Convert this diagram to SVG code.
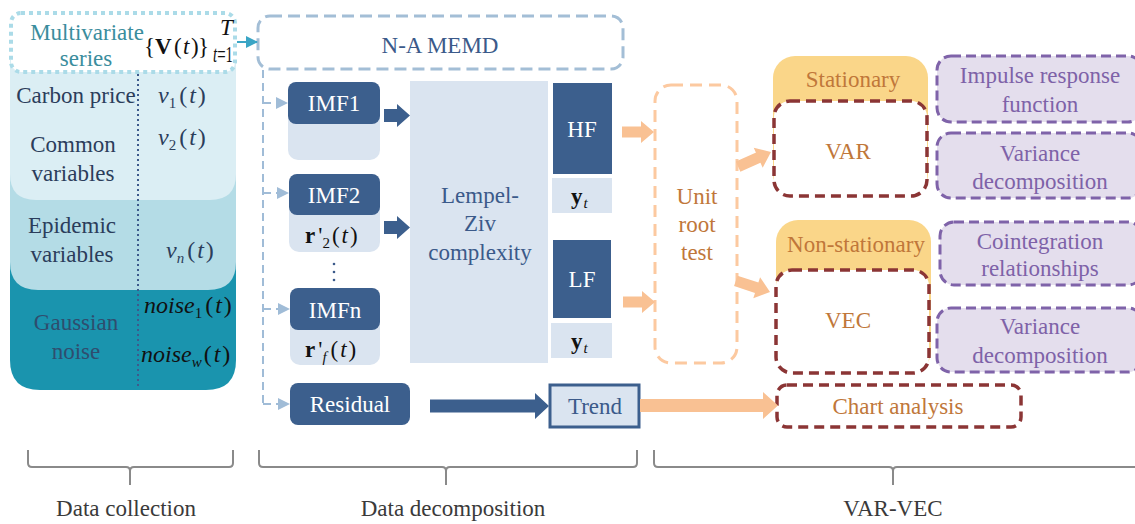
<svg xmlns="http://www.w3.org/2000/svg" width="1135" height="524" viewBox="0 0 1135 524" font-family="'Liberation Serif', serif">
  <defs>
    <style>
      svg text { font-family: 'Liberation Serif', serif; font-size: 23px; }
      .mid { text-anchor: middle; }
      .it { font-style: italic; }
      .bd { font-weight: bold; }
      .math { font-size: 24px; }
      .teal { fill: #3a8d9d; }
      .ink { fill: #2b3d5b; }
      .white { fill: #ffffff; }
      .navyTxt { fill: #3b5a8a; }
      .brown { fill: #c0773a; }
      .purpleTxt { fill: #7e62a8; }
      .gray { fill: #3a3a3a; }
      .navy { fill: #3c5f8d; }
      .pale { fill: #dae4f0; }
      .peachArrow { fill: #f9c193; }
      .memd { fill: #ffffff; stroke: #a3bed6; stroke-width: 3; stroke-dasharray: 12 6; }
      .unit { fill: none; stroke: #fcc9a0; stroke-width: 3; stroke-dasharray: 12 7; }
      .model { fill: #ffffff; stroke: #8b3535; stroke-width: 3.5; stroke-dasharray: 10 6; }
      .result { fill: #e4deed; stroke: #7f63a9; stroke-width: 3; stroke-dasharray: 10 5; }
      .yellow { fill: #fad689; }
      .brace { fill: none; stroke: #8a8a8a; stroke-width: 2; }
      .feed { fill: none; stroke: #a0bcd7; stroke-width: 2; stroke-dasharray: 8 5; }
    </style>
    <marker id="feedHead" markerWidth="12" markerHeight="12" refX="11" refY="6" orient="auto" markerUnits="userSpaceOnUse">
      <path d="M0,0 L12,6 L0,12 Z" fill="#a0bcd7"/>
    </marker>
    <marker id="tealHead" markerWidth="12" markerHeight="12" refX="11" refY="6" orient="auto" markerUnits="userSpaceOnUse">
      <path d="M0,0 L12,6 L0,12 Z" fill="#3aa5c5"/>
    </marker>
  </defs>

  <!-- Data collection panel -->
  <g id="data-panel">
    <path d="M10,250 L236,250 L236,360 Q236,390 206,390 L40,390 Q10,390 10,360 Z" fill="#1a94ae"/>
    <path d="M10,150 L236,150 L236,262 Q236,290 208,290 L38,290 Q10,290 10,262 Z" fill="#b4dce6"/>
    <path d="M10,60 L236,60 L236,174 Q236,200 210,200 L36,200 Q10,200 10,174 Z" fill="#dbeef4"/>
    <line x1="138" y1="74" x2="138" y2="388" stroke="#3d5a8c" stroke-width="2" stroke-dasharray="2 3"/>
    <text class="ink mid" x="76" y="103">Carbon price</text>
    <text class="ink math" x="158" y="103"><tspan class="it">v</tspan><tspan font-size="15" dy="5">1</tspan><tspan dy="-5" dx="3">(</tspan><tspan class="it" dx="2">t</tspan><tspan dx="2">)</tspan></text>
    <text class="ink mid" x="73" y="152">Common</text>
    <text class="ink mid" x="73" y="181">variables</text>
    <text class="ink math" x="158" y="145"><tspan class="it">v</tspan><tspan font-size="15" dy="5">2</tspan><tspan dy="-5" dx="3">(</tspan><tspan class="it" dx="2">t</tspan><tspan dx="2">)</tspan></text>
    <text class="ink mid" x="72" y="233">Epidemic</text>
    <text class="ink mid" x="72" y="262">variables</text>
    <text class="ink math" x="166" y="258"><tspan class="it">v</tspan><tspan font-size="15" dy="5" class="it">n</tspan><tspan dy="-5" dx="3">(</tspan><tspan class="it" dx="2">t</tspan><tspan dx="2">)</tspan></text>
    <text class="mid" x="76" y="330" fill="#2f4d6e">Gaussian</text>
    <text class="mid" x="76" y="359" fill="#2f4d6e">noise</text>
    <text class="math" x="144" y="313" fill="#111"><tspan class="it">noise</tspan><tspan font-size="15" dy="5">1</tspan><tspan dy="-5" dx="3">(</tspan><tspan class="it" dx="2">t</tspan><tspan dx="2">)</tspan></text>
    <text class="math" x="141" y="362" fill="#111"><tspan class="it">noise</tspan><tspan font-size="15" dy="5" class="it">w</tspan><tspan dy="-5" dx="2">(</tspan><tspan class="it" dx="2">t</tspan><tspan dx="2">)</tspan></text>
  </g>

  <!-- Multivariate series header -->
  <g id="multivariate">
    <rect x="11" y="13" width="224" height="59" rx="10" fill="#ffffff" stroke="#abdbe8" stroke-width="4" stroke-dasharray="4 4"/>
    <text class="teal mid" x="87" y="40">Multivariate</text>
    <text class="teal mid" x="86" y="66">series</text>
    <text y="54" font-size="24" fill="#111"><tspan x="144">{</tspan><tspan x="155" class="bd">V</tspan><tspan x="174">(</tspan><tspan x="183" class="it">t</tspan><tspan x="191">)</tspan><tspan x="198">}</tspan></text>
    <text x="220" y="35" font-size="15" class="it" fill="#111">T</text>
    <text x="213" y="62" font-size="12" fill="#111" textLength="20" lengthAdjust="spacingAndGlyphs"><tspan class="it">t</tspan>=1</text>
  </g>

  <!-- N-A MEMD -->
  <g id="na-memd">
    <rect x="258" y="16" width="365" height="53" rx="12" class="memd"/>
    <text class="navyTxt mid" x="440" y="53">N-A MEMD</text>
  </g>

  <g id="imf1">
    <rect x="288" y="82" width="92" height="78" rx="10" class="pale"/>
    <rect x="288" y="82" width="92" height="42" rx="8" class="navy"/>
    <text class="white mid" x="334" y="111">IMF1</text>
  </g>

  <g id="imf2">
    <rect x="289" y="174" width="91" height="78" rx="10" class="pale"/>
    <rect x="289" y="174" width="91" height="41" rx="8" class="navy"/>
    <text class="white mid" x="334" y="203">IMF2</text>
    <text x="305" y="243" font-size="25" fill="#111"><tspan class="bd">r</tspan><tspan dx="3">'</tspan><tspan font-size="15" dy="5">2</tspan><tspan dy="-5" dx="2">(</tspan><tspan class="it" dx="2">t</tspan><tspan dx="2">)</tspan></text>
  </g>

  <g id="imf-dots" fill="#3b5a8a">
    <circle cx="334" cy="264" r="1.3"/>
    <circle cx="334" cy="272" r="1.3"/>
    <circle cx="334" cy="280" r="1.3"/>
  </g>

  <g id="imfn">
    <rect x="290" y="288" width="90" height="77" rx="10" class="pale"/>
    <rect x="290" y="288" width="90" height="42" rx="8" class="navy"/>
    <text class="white mid" x="335" y="318">IMFn</text>
    <text x="305" y="357" font-size="25" fill="#111"><tspan class="bd">r</tspan><tspan dx="3">'</tspan><tspan font-size="15" dy="5" class="it">f</tspan><tspan dy="-5" dx="4">(</tspan><tspan class="it" dx="2">t</tspan><tspan dx="2">)</tspan></text>
  </g>

  <g id="residual">
    <rect x="290" y="383" width="120" height="42" rx="8" class="navy"/>
    <text class="white mid" x="350" y="412">Residual</text>
  </g>

  <g id="lempel-ziv">
    <rect x="410" y="81" width="138" height="282" class="pale"/>
    <text class="navyTxt mid" x="480" y="203">Lempel-</text>
    <text class="navyTxt mid" x="480" y="231">Ziv</text>
    <text class="navyTxt mid" x="480" y="260">complexity</text>
  </g>

  <g id="hf">
    <rect x="553" y="83" width="59" height="91" class="navy"/>
    <text class="white mid" x="582" y="137">HF</text>
    <rect x="552" y="178" width="60" height="35" class="pale"/>
    <text x="571" y="204" font-size="25" fill="#111"><tspan class="bd">y</tspan><tspan font-size="15" dy="4" dx="1" class="it">t</tspan></text>
  </g>

  <g id="lf">
    <rect x="553" y="240" width="58" height="78" class="navy"/>
    <text class="white mid" x="582" y="287">LF</text>
    <rect x="551" y="323" width="61" height="35" class="pale"/>
    <text x="571" y="349" font-size="25" fill="#111"><tspan class="bd">y</tspan><tspan font-size="15" dy="4" dx="1" class="it">t</tspan></text>
  </g>

  <g id="trend">
    <rect x="550" y="385" width="89" height="42" fill="#dae4f0" stroke="#3c5f8d" stroke-width="3"/>
    <text class="navyTxt mid" x="595" y="414">Trend</text>
  </g>

  <g id="unit-root">
    <rect x="655" y="85" width="82" height="278" rx="16" class="unit"/>
    <text class="brown mid" x="697" y="204">Unit</text>
    <text class="brown mid" x="697" y="232">root</text>
    <text class="brown mid" x="697" y="260">test</text>
  </g>

  <g id="stationary">
    <rect x="773" y="56" width="155" height="140" rx="22" class="yellow"/>
    <text class="brown mid" x="853" y="87">Stationary</text>
    <rect x="774" y="101" width="153" height="95" rx="16" class="model"/>
    <text class="brown mid" x="848" y="159">VAR</text>
  </g>

  <g id="non-stationary">
    <rect x="776" y="220" width="155" height="153" rx="22" class="yellow"/>
    <text class="brown mid" x="856" y="252">Non-stationary</text>
    <rect x="776" y="270" width="153" height="103" rx="16" class="model"/>
    <text class="brown mid" x="848" y="328">VEC</text>
  </g>

  <g id="impulse-response">
    <rect x="937" y="56" width="205" height="66" rx="14" class="result"/>
    <text class="purpleTxt mid" x="1040" y="83">Impulse response</text>
    <text class="purpleTxt mid" x="1040" y="112">function</text>
  </g>

  <g id="variance-var">
    <rect x="937" y="133" width="205" height="65" rx="14" class="result"/>
    <text class="purpleTxt mid" x="1040" y="161">Variance</text>
    <text class="purpleTxt mid" x="1040" y="189">decomposition</text>
  </g>

  <g id="cointegration">
    <rect x="940" y="222" width="202" height="63" rx="14" class="result"/>
    <text class="purpleTxt mid" x="1040" y="249">Cointegration</text>
    <text class="purpleTxt mid" x="1040" y="276">relationships</text>
  </g>

  <g id="variance-vec">
    <rect x="937" y="308" width="205" height="64" rx="14" class="result"/>
    <text class="purpleTxt mid" x="1040" y="334">Variance</text>
    <text class="purpleTxt mid" x="1040" y="363">decomposition</text>
  </g>

  <g id="chart-analysis">
    <rect x="777" y="385" width="244" height="42" rx="10" class="model"/>
    <text class="brown mid" x="898" y="414">Chart analysis</text>
  </g>

  <!-- Connectors -->
  <g id="connectors">
    <line x1="237" y1="42" x2="257" y2="42" stroke="#3aa5c5" stroke-width="2" marker-end="url(#tealHead)"/>
    <path class="feed" d="M263,70 L263,404"/>
    <line class="feed" x1="263" y1="103" x2="287" y2="103" marker-end="url(#feedHead)"/>
    <line class="feed" x1="263" y1="193" x2="288" y2="193" marker-end="url(#feedHead)"/>
    <line class="feed" x1="263" y1="309" x2="289" y2="309" marker-end="url(#feedHead)"/>
    <line class="feed" x1="263" y1="404" x2="289" y2="404" marker-end="url(#feedHead)"/>

    <polygon class="navy" points="384,109 397,109 397,104 410,115.5 397,127 397,122 384,122"/>
    <polygon class="navy" points="384,221 397,221 397,216 410,227.5 397,239 397,234 384,234"/>
    <polygon class="navy" points="430,399.5 535,399.5 535,393 549,406 535,419 535,412.5 430,412.5"/>

    <polygon class="peachArrow" points="622,126.5 641,126.5 641,121 654,132 641,143 641,137.5 622,137.5"/>
    <polygon class="peachArrow" points="623,296.5 642,296.5 642,291 655,302 642,313 642,307.5 623,307.5"/>
    <polygon class="peachArrow" points="640,399 763,399 763,392 778,405.5 763,419 763,412 640,412"/>
    <polygon class="peachArrow" points="0,-5.5 -14,-5.5 -14,-11 0,0 -14,11 -14,5.5 -36,5.5 -36,-5.5" transform="translate(771,152) rotate(-24)"/>
    <polygon class="peachArrow" points="0,-5.5 -14,-5.5 -14,-11 0,0 -14,11 -14,5.5 -36,5.5 -36,-5.5" transform="translate(770,292) rotate(18)"/>
  </g>

  <!-- Stage braces and labels -->
  <g id="stage-braces">
    <path class="brace" d="M28,450 L28,463 Q28,467 32,467 L126,467 Q130,467 130,471 L130,485 M130,471 Q130,467 134,467 L229,467 Q233,467 233,463 L233,450"/>
    <path class="brace" d="M259,450 L259,463 Q259,467 263,467 L442,467 Q446,467 446,471 L446,485 M446,471 Q446,467 450,467 L633,467 Q637,467 637,463 L637,450"/>
    <path class="brace" d="M654,450 L654,463 Q654,467 658,467 L889,467 Q893,467 893,471 L893,485 M893,471 Q893,467 897,467 L1140,467"/>
    <text class="gray mid" x="126" y="516" font-size="22">Data collection</text>
    <text class="gray mid" x="453" y="516" font-size="22">Data decomposition</text>
    <text class="gray mid" x="893" y="516" font-size="22">VAR-VEC</text>
  </g>
</svg>
